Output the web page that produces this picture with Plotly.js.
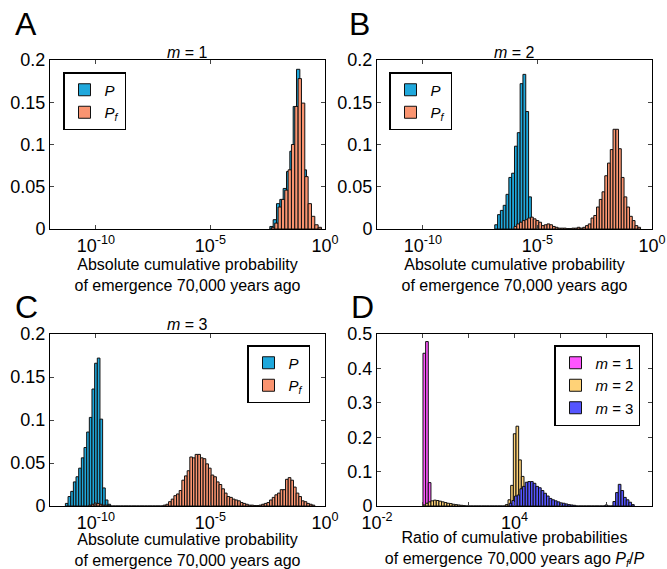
<!DOCTYPE html>
<html><head><meta charset="utf-8">
<script src="https://cdn.plot.ly/plotly-3.0.1.min.js"></script>
<style>html,body{margin:0;padding:0;background:#fff}#chart{width:667px;height:569px}</style>
</head><body><div id="chart"></div>
<script>
// ---------- DATA (log10 bin starts, bin widths, and bin fractions) ----------
// Panel A (m = 1)
const aBinWidth = 0.1456;
const aP_start = -2.335;
const aP = [0.003,0.011,0.03,0.035,0.048,0.068,0.092,0.145,0.189,0.14,0.07,0.025,0.008,0.002];
const aPf_start = -2.265;
const aPf = [0.002,0.007,0.026,0.035,0.046,0.07,0.1,0.145,0.178,0.149,0.062,0.03,0.015,0.005,0.002];

// Panel B (m = 2)
const bP_width = 0.123;
const bP_start = -6.80;
const bP = [0.005,0.017,0.022,0.028,0.041,0.061,0.066,0.098,0.114,0.172,0.183,0.139,0.038,0.003];
const bPf_width = 0.12;
const bPf_start = -5.96;
const bPf = [0.003,0.006,0.008,0.010,0.011,0.013,0.014,0.012,0.010,0.008,0.004,0.005,0.006,0.005,0.003,0.002,
             0.001,0.001,0.001,0.0005,0.0005,0.001,0.001,0.002,0.001,0.002,0.004,0.006,0.013,0.016,0.026,0.035,
             0.044,0.063,0.078,0.094,0.118,0.118,0.095,0.061,0.038,0.026,0.015,0.010,0.004,0.002];

// Panel C (m = 3)
const cBinWidth = 0.116;
const cP_start = -11.27;
const cP = [0.003,0.011,0.017,0.028,0.034,0.044,0.056,0.068,0.086,0.103,0.136,0.166,0.172,0.101,0.021,0.007,0.002];
const cPf_start = -10.248;
const cPf = [0.001,0.002,0.003,0.003,0.002,0.001,0.001,0,0,0,0,0,0,0,0,0,0,0,0,0,0,0,0,0,0,0,0,0,
             0.001,0.002,0.005,0.008,0.012,0.014,0.018,0.030,0.035,0.041,0.057,0.056,0.060,0.060,0.056,0.055,
             0.049,0.044,0.036,0.034,0.028,0.025,0.020,0.015,0.011,0.010,0.008,0.007,0.006,0.004,0.003,0.002,
             0.001,0.001,0.0005,0.0005,0.001,0.002,0.003,0.004,0.007,0.010,0.013,0.015,0.019,0.019,0.031,0.033,
             0.030,0.022,0.015,0.011,0.006,0.005,0.003,0.002,0.001];

// Panel D (ratio Pf/P)
const dBinWidth = 0.116;
const dM1_start = 0.064;
const dM1 = [0.444,0.478,0.068,0.004];
const dM2_start = 0.064;
const dM2 = [0.003,0.008,0.012,0.015,0.017,0.016,0.014,0.012,0.010,0.008,0.007,0.005,0.004,0.003,0.002,0.001,
             0,0,0,0,0,0,0,0,0,0,0,0,0,0,0,
             0.004,0.018,0.06,0.21,0.232,0.134,0.086,0.05,0.03,0.015,0.008,0.004,0.002];
const dM3_start = 3.83;
const dM3 = [0.008,0.016,0.029,0.032,0.05,0.057,0.069,0.071,0.071,0.066,0.057,0.053,0.045,0.037,0.029,0.022,
             0.018,0.015,0.012,0.009,0.008,0.006,0.004,0.003,0.002,
             0,0,0,0,0,0,0,0,0,0,0,0.003,0,0,
             0.013,0.039,0.063,0.045,0.025,0.018,0.011,0.004];

// tick labels
const absTickVals = [-10,-5,0];
const absTickText = ['10<sup>-10</sup>','10<sup>-5</sup>','10<sup>0</sup>'];
const ratioTickVals = [-2,0,2,4,6,8,10];
const ratioTickText = ['10<sup>-2</sup>','','','10<sup>4</sup>','','','10<sup>10</sup>'];
const probYVals = [0,0.05,0.1,0.15,0.2];
const probYText = ['0','0.05','0.1','0.15','0.2'];
const ratioYVals = [0,0.1,0.2,0.3,0.4,0.5];
const ratioYText = ['0','0.1','0.2','0.3','0.4','0.5'];

// ---------- STYLE ----------
const FONT = 'Liberation Sans, Arial, Helvetica, sans-serif';
const C_P = '#1fa8dc', C_PF = '#fa9470';
const C_M1 = '#ff55ff', C_M2 = '#ffd277', C_M3 = '#5555ff';

function centers(start, width, vals){ return vals.map((v,i)=>start + i*width); }
function hist(name, start, width, vals, color, xa, ya, legend){
  return {type:'bar', name:name, x:centers(start,width,vals), y:vals, width:width,
    marker:{color:color, line:{color:'#111', width:1}}, xaxis:xa, yaxis:ya,
    legend:legend, hoverinfo:'skip'};
}

const traces = [
  hist('<i>P</i>', aP_start, aBinWidth, aP, C_P, 'x','y','legend'),
  hist('<i>P</i><sub><i>f</i></sub>', aPf_start, aBinWidth, aPf, C_PF, 'x','y','legend'),
  hist('<i>P</i>', bP_start, bP_width, bP, C_P, 'x2','y2','legend2'),
  hist('<i>P</i><sub><i>f</i></sub>', bPf_start, bPf_width, bPf, C_PF, 'x2','y2','legend2'),
  hist('<i>P</i>', cP_start, cBinWidth, cP, C_P, 'x3','y3','legend3'),
  hist('<i>P</i><sub><i>f</i></sub>', cPf_start, cBinWidth, cPf, C_PF, 'x3','y3','legend3'),
  hist('<i>m</i> = 1', dM1_start, dBinWidth, dM1, C_M1, 'x4','y4','legend4'),
  hist('<i>m</i> = 2', dM2_start, dBinWidth, dM2, C_M2, 'x4','y4','legend4'),
  hist('<i>m</i> = 3', dM3_start, dBinWidth, dM3, C_M3, 'x4','y4','legend4')
];

const W = 667, H = 569;
const px = v => v / W, py = v => 1 - v / H;
const TICKFONT = {size:18, family:FONT, color:'#000'};

const absTitle = 'Absolute cumulative probability<br>of emergence 70,000 years ago';
function xax(dom, range, tv, tt, title){
  return {domain:dom, range:range, tickmode:'array', tickvals:tv, ticktext:tt, ticks:'inside', ticklen:4,
    showline:true, mirror:'ticks', linecolor:'#000', linewidth:1, showgrid:false, zeroline:false,
    tickfont:TICKFONT, fixedrange:true,
    title:{text:title, font:{size:16, family:FONT, color:'#000'}, standoff:4}};
}
function yax(dom, range, tv, tt){
  return {domain:dom, range:range, tickmode:'array', tickvals:tv, ticktext:tt, ticks:'inside', ticklen:4,
    showline:true, mirror:'ticks', linecolor:'#000', linewidth:1, showgrid:false, zeroline:false,
    tickfont:TICKFONT, fixedrange:true};
}
const domL = [px(50), px(325)], domR = [px(377), px(652)];
const domT = [py(229), py(60)], domB = [py(506), py(334)];

function leg(x, y, xanchor){
  return {x:x, y:y, xanchor:xanchor, yanchor:'top', bordercolor:'#000', borderwidth:1.5,
    bgcolor:'#fff', font:{size:15, family:FONT, color:'#000'}, tracegroupgap:0,
    itemwidth:30, itemclick:false, itemdoubleclick:false};
}

const layout = {
  width:W, height:H, margin:{l:0,r:0,t:0,b:0}, paper_bgcolor:'#fff', plot_bgcolor:'#fff',
  barmode:'overlay', bargap:0, font:{family:FONT, color:'#000', size:18},
  xaxis: xax(domL, [-12,0], absTickVals, absTickText, absTitle),
  yaxis: Object.assign(yax(domT, [0,0.2], probYVals, probYText), {anchor:'x'}),
  xaxis2: Object.assign(xax(domR, [-12,0], absTickVals, absTickText, absTitle), {anchor:'y2'}),
  yaxis2: Object.assign(yax(domT, [0,0.2], probYVals, probYText), {anchor:'x2'}),
  xaxis3: Object.assign(xax(domL, [-12,0], absTickVals, absTickText, absTitle), {anchor:'y3'}),
  yaxis3: Object.assign(yax(domB, [0,0.2], probYVals, probYText), {anchor:'x3'}),
  xaxis4: Object.assign(xax(domR, [-2,10], ratioTickVals, ratioTickText,
           'Ratio of cumulative probabilities<br>of emergence 70,000 years ago <i>P</i><sub><i>f</i></sub>/<i>P</i>'), {anchor:'y4'}),
  yaxis4: Object.assign(yax(domB, [0,0.5], ratioYVals, ratioYText), {anchor:'x4'}),
  legend: leg(px(63), py(72), 'left'),
  legend2: leg(px(389), py(72), 'left'),
  legend3: leg(px(310), py(345), 'right'),
  legend4: leg(px(640), py(345), 'right'),
  annotations: [
    {text:'A', x:px(13), y:py(24), xref:'paper', yref:'paper', xanchor:'left', yanchor:'middle', showarrow:false, font:{size:32, family:FONT}},
    {text:'B', x:px(347), y:py(24), xref:'paper', yref:'paper', xanchor:'left', yanchor:'middle', showarrow:false, font:{size:32, family:FONT}},
    {text:'C', x:px(13), y:py(307), xref:'paper', yref:'paper', xanchor:'left', yanchor:'middle', showarrow:false, font:{size:32, family:FONT}},
    {text:'D', x:px(349), y:py(307), xref:'paper', yref:'paper', xanchor:'left', yanchor:'middle', showarrow:false, font:{size:32, family:FONT}},
    {text:'<i>m</i> = 1', x:px(187.5), y:py(52), xref:'paper', yref:'paper', xanchor:'center', yanchor:'middle', showarrow:false, font:{size:16, family:FONT}},
    {text:'<i>m</i> = 2', x:px(514.5), y:py(52), xref:'paper', yref:'paper', xanchor:'center', yanchor:'middle', showarrow:false, font:{size:16, family:FONT}},
    {text:'<i>m</i> = 3', x:px(187.5), y:py(324), xref:'paper', yref:'paper', xanchor:'center', yanchor:'middle', showarrow:false, font:{size:16, family:FONT}}
  ]
};

Plotly.newPlot('chart', traces, layout, {staticPlot:true, displayModeBar:false});
</script></body></html>
